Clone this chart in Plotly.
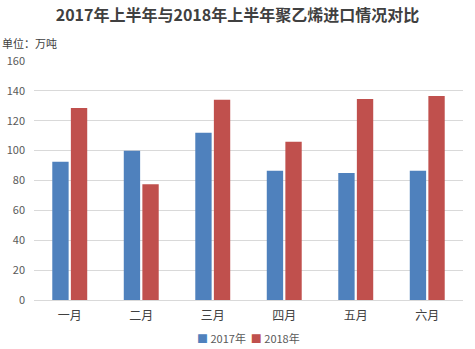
import plotly.graph_objects as go

categories = ["一月", "二月", "三月", "四月", "五月", "六月"]
values_2017 = [92.5, 100, 112, 86.5, 85, 86.5]
values_2018 = [128.5, 77.5, 134, 106, 134.5, 136.5]
series_names = ["2017年", "2018年"]
series_colors = ["#4F81BD", "#C0504D"]
y_ticks = [0, 20, 40, 60, 80, 100, 120, 140, 160]

FONT = "Noto Sans CJK SC, Microsoft YaHei, sans-serif"

fig = go.Figure()
for name, vals, col in zip(series_names, [values_2017, values_2018], series_colors):
    fig.add_trace(go.Bar(x=categories, y=vals, name=name,
                         marker=dict(color=col, line=dict(width=0))))

legend_text = "  ".join(
    f'<span style="color:{c}">■</span> {n}' for n, c in zip(series_names, series_colors)
)

fig.update_layout(
    width=475, height=349,
    margin=dict(l=34, r=12, t=61, b=49, autoexpand=False),
    paper_bgcolor="white", plot_bgcolor="white",
    font=dict(family=FONT, size=11, color="#595959"),
    title=dict(text="<b>2017年上半年与2018年上半年聚乙烯进口情况对比</b>",
               x=0.5, xanchor="center", y=0.955, yanchor="middle",
               font=dict(family=FONT, size=16, color="#404040")),
    barmode="group", bargap=0.48, bargroupgap=0.12,
    showlegend=False,
    annotations=[
        dict(text="单位：万吨", xref="paper", yref="paper", x=-0.08, xanchor="left",
             y=1.075, yanchor="middle", showarrow=False,
             font=dict(family=FONT, size=11, color="#404040")),
        dict(text=legend_text, xref="paper", yref="paper", x=0.5, xanchor="center",
             y=-0.16, yanchor="middle", showarrow=False,
             font=dict(family=FONT, size=11, color="#595959")),
    ],
)
fig.update_yaxes(range=[0, 160], tickvals=y_ticks, showgrid=True, gridcolor="#D9D9D9",
                 gridwidth=1, zeroline=False, showline=False, ticks="",
                 ticklabelstandoff=8, automargin=False,
                 tickfont=dict(size=11, color="#595959"))
fig.update_xaxes(showline=True, linecolor="#D9D9D9", linewidth=1, ticks="",
                 ticklabelstandoff=5, automargin=False,
                 tickfont=dict(size=12, color="#404040"))

fig.write_html("out.html")
